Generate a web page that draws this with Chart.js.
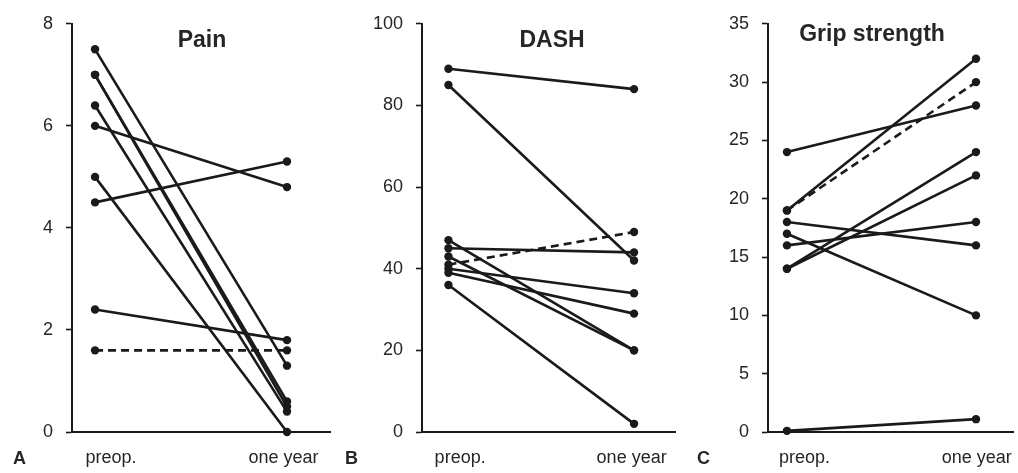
<!DOCTYPE html>
<html>
<head>
<meta charset="utf-8">
<script src="https://cdn.jsdelivr.net/npm/chart.js@4/dist/chart.umd.min.js"></script>
<style>
  html, body { margin: 0; padding: 0; background: #fff; }
  #wrap { position: relative; width: 1018px; height: 473px; }
  .panel { position: absolute; top: 0; height: 473px; }
</style>
</head>
<body>
<div id="wrap">
  <div class="panel" style="left:0;width:340px"><canvas id="chartA"></canvas></div>
  <div class="panel" style="left:340px;width:340px"><canvas id="chartB"></canvas></div>
  <div class="panel" style="left:680px;width:338px"><canvas id="chartC"></canvas></div>
</div>
<script>
/* ===== Data ===== */
const X_LABELS = ['preop.', 'one year'];

// Pain (VAS)
const PAIN_PRE    = [7.5, 7.0, 7.0, 6.4, 6.0, 5.0, 4.5, 2.4, 1.6];
const PAIN_YEAR   = [1.3, 0.6, 0.5, 0.4, 4.8, 0.0, 5.3, 1.8, 1.6];
const PAIN_DASHED = [8];
const PAIN_TICKS  = [0, 2, 4, 6, 8];

// DASH
const DASH_PRE    = [89, 85, 47, 45, 43, 41, 40, 39, 36];
const DASH_YEAR   = [84, 42, 20, 44, 20, 49, 34, 29, 2];
const DASH_DASHED = [5];
const DASH_TICKS  = [0, 20, 40, 60, 80, 100];

// Grip strength
const GRIP_PRE    = [24, 19, 19, 18, 17, 16, 14, 14, 0.1];
const GRIP_YEAR   = [28, 32, 30, 16, 10, 18, 24, 22, 1.1];
const GRIP_DASHED = [2];
const GRIP_TICKS  = [0, 5, 10, 15, 20, 25, 30, 35];

/* ===== Styling ===== */
const INK = '#1a1a1a';
const TEXT = '#262626';
const FONT = 'Liberation Sans, Arial, Helvetica, sans-serif';

function buildDatasets(pre, year, dashed) {
  return pre.map((v, i) => ({
    data: [{ x: 0, y: v }, { x: 1, y: year[i] }],
    borderColor: INK,
    backgroundColor: INK,
    borderWidth: 2.6,
    borderDash: dashed.includes(i) ? [8, 5] : [],
    pointRadius: 4.2,
    pointBorderWidth: 0,
    pointBackgroundColor: INK,
    clip: false,
  }));
}

// draws the panel title and the panel letter
const labelsPlugin = {
  id: 'panelLabels',
  afterDraw(chart, args, opts) {
    const ctx = chart.ctx;
    ctx.save();
    ctx.fillStyle = TEXT;
    ctx.textBaseline = 'alphabetic';
    ctx.font = `bold 23px ${FONT}`;
    ctx.textAlign = 'center';
    ctx.fillText(opts.title, opts.titleX, opts.titleY);
    ctx.font = `bold 18px ${FONT}`;
    ctx.textAlign = 'left';
    ctx.fillText(opts.letter, opts.letterX, 464);
    ctx.restore();
  },
};

function makePanel(id, cfg) {
  const ctx = document.getElementById(id).getContext('2d');
  return new Chart(ctx, {
    type: 'line',
    data: { datasets: buildDatasets(cfg.pre, cfg.year, cfg.dashed) },
    plugins: [labelsPlugin],
    options: {
      responsive: true,
      maintainAspectRatio: false,
      animation: false,
      layout: { padding: { top: 18, right: cfg.padRight, bottom: 0, left: 0 } },
      plugins: {
        legend: { display: false },
        tooltip: { enabled: false },
        panelLabels: cfg.labels,
      },
      scales: {
        x: {
          type: 'linear',
          min: cfg.xMin,
          max: cfg.xMax,
          // fixed height, and keep the labels from pushing the plot inwards
          afterFit: s => { s.height = 41; s.paddingLeft = 0; s.paddingRight = 0; },
          afterBuildTicks: s => { s.ticks = cfg.labelPos.map(v => ({ value: v })); },
          ticks: {
            autoSkip: false,
            maxRotation: 0,
            minRotation: 0,
            padding: 15,
            color: TEXT,
            font: { family: FONT, size: 18 },
            callback: (v, i) => X_LABELS[i],
          },
          grid: { display: true, drawOnChartArea: false, drawTicks: false },
          border: { display: true, color: INK, width: 2 },
        },
        y: {
          type: 'linear',
          min: cfg.ticks[0],
          max: cfg.ticks[cfg.ticks.length - 1],
          afterFit: s => { s.width = cfg.axisLeft; },
          afterBuildTicks: s => { s.ticks = cfg.ticks.map(v => ({ value: v })); },
          ticks: {
            padding: 13,
            color: TEXT,
            font: { family: FONT, size: 18 },
          },
          grid: {
            display: true,
            drawOnChartArea: false,
            drawTicks: true,
            tickLength: 6,
            tickWidth: 1.6,
            tickColor: INK,
          },
          border: { display: true, color: INK, width: 2 },
        },
      },
    },
  });
}

makePanel('chartA', {
  pre: PAIN_PRE, year: PAIN_YEAR, dashed: PAIN_DASHED, ticks: PAIN_TICKS,
  axisLeft: 72, padRight: 10, xMin: -0.12, xMax: 1.224, labelPos: [0.083, 0.982],
  labels: { title: 'Pain', titleX: 202, titleY: 47, letter: 'A', letterX: 13 },
});

makePanel('chartB', {
  pre: DASH_PRE, year: DASH_YEAR, dashed: DASH_DASHED, ticks: DASH_TICKS,
  axisLeft: 82, padRight: 0, xMin: -0.1425, xMax: 1.225, labelPos: [0.063, 0.987],
  labels: { title: 'DASH', titleX: 212, titleY: 47, letter: 'B', letterX: 5 },
});

makePanel('chartC', {
  pre: GRIP_PRE, year: GRIP_YEAR, dashed: GRIP_DASHED, ticks: GRIP_TICKS,
  axisLeft: 88, padRight: 0, xMin: -0.1003, xMax: 1.2, labelPos: [0.093, 1.004],
  labels: { title: 'Grip strength', titleX: 192, titleY: 41, letter: 'C', letterX: 17 },
});
</script>
</body>
</html>
